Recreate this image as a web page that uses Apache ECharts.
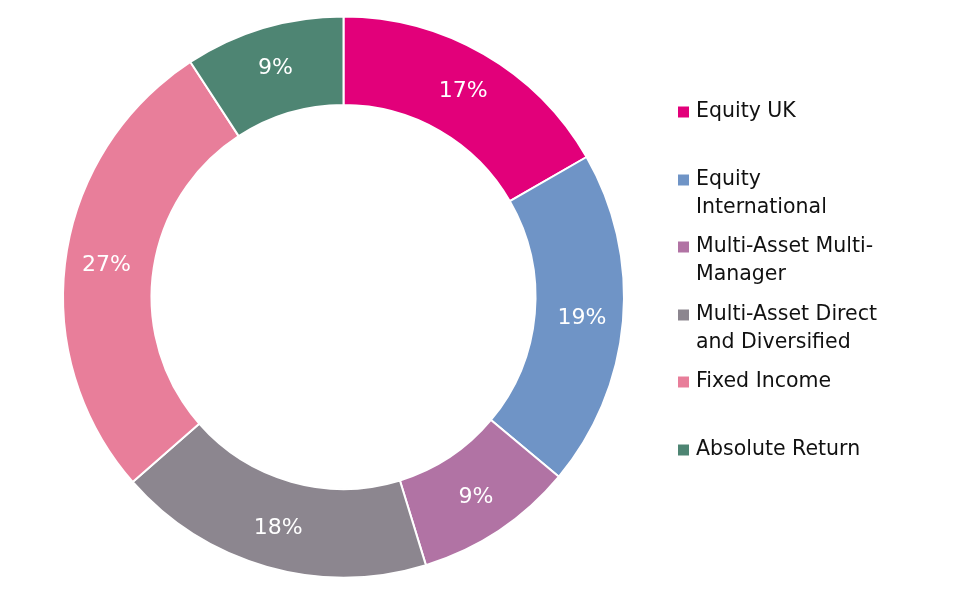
<!DOCTYPE html>
<html>
<head>
<meta charset="utf-8">
<script src="https://cdn.jsdelivr.net/npm/echarts@6/dist/echarts.min.js"></script>
<style>
html,body{margin:0;padding:0;background:#fff;}
#chart{width:954px;height:596px;}
</style>
</head>
<body>
<div id="chart"></div>
<script>
const categories = ['Equity UK', 'Equity International', 'Multi-Asset Multi-Manager', 'Multi-Asset Direct and Diversified', 'Fixed Income', 'Absolute Return'];
const legendLines = [['Equity UK'], ['Equity', 'International'], ['Multi-Asset Multi-', 'Manager'], ['Multi-Asset Direct', 'and Diversified'], ['Fixed Income'], ['Absolute Return']];
const values = [16.7, 19.4, 9.2, 18.3, 27.3, 9.2];
const colors = ['#E2007A', '#6F94C6', '#B173A4', '#8C868F', '#E87E9A', '#4E8573'];

const FONT = '"DejaVu Sans", "Noto Sans", sans-serif';
const iconCenters = [112, 180, 247, 315, 382, 450];
const ICON = 13;

const legends = categories.map(function (name, i) {
  const lines = legendLines[i];
  const twoLine = lines.length > 1;
  // two-line items: a leading empty line keeps the icon level with the first line
  const text = twoLine ? '\n' + lines.join('\n') : lines[0];
  return {
    show: true,
    orient: 'vertical',
    left: 676,
    top: iconCenters[i] - (twoLine ? 42 : 14),
    padding: 0,
    itemWidth: ICON,
    itemHeight: ICON,
    icon: 'rect',
    selectedMode: false,
    data: [name],
    formatter: function () { return text; },
    textStyle: {
      fontFamily: FONT,
      fontSize: 20.5,
      color: '#111',
      lineHeight: 28,
      padding: [0, 0, 0, 1]
    }
  };
});

const chart = echarts.init(document.getElementById('chart'));
chart.setOption({
  animation: false,
  color: colors,
  legend: legends,
  series: [{
    type: 'pie',
    center: [343.5, 297],
    radius: [192, 280.5],
    startAngle: 90,
    clockwise: true,
    avoidLabelOverlap: false,
    itemStyle: { borderColor: '#fff', borderWidth: 2 },
    label: {
      show: true,
      position: 'inside',
      color: '#fff',
      fontFamily: FONT,
      fontSize: 22,
      fontWeight: 'normal',
      offset: [0, 1],
      formatter: function (p) { return Math.round(p.value) + '%'; }
    },
    labelLine: { show: false },
    emphasis: { disabled: true },
    data: categories.map(function (c, i) { return { name: c, value: values[i] }; })
  }]
});
</script>
</body>
</html>
